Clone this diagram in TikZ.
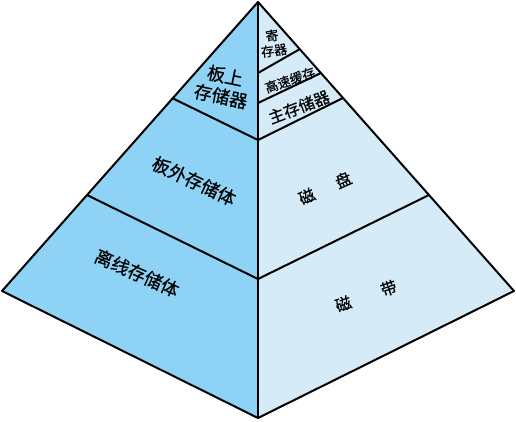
\documentclass[tikz,border=0pt]{standalone}
\usepackage{fontspec}
\newfontfamily\cjk[FakeBold=0.5]{Noto Sans CJK SC}
\definecolor{leftface}{HTML}{8ED3F5}
\definecolor{rightface}{HTML}{D5ECF8}
\tikzset{
    x=1pt, y=-1pt, % one unit per pixel, y grows downward
    rim/.style={line width=2pt, line join=round}, % outline and level lines
    biglabel/.style={font=\cjk\fontsize{18}{21}\selectfont, align=center, inner sep=0pt}, % labels of the left face
    midlabel/.style={font=\cjk\fontsize{16}{18}\selectfont, align=center, inner sep=0pt}, % labels of the right face
    smalllabel/.style={font=\cjk\fontsize{13}{15}\selectfont, align=center, inner sep=0pt}, % small labels near the apex
}

\begin{document}
\begin{tikzpicture}
\useasboundingbox (0,0) rectangle (516,422);
% corners of the pyramid
\coordinate (apex)   at (258,2);
\coordinate (left)   at (2,291);
\coordinate (right)  at (514,291);
\coordinate (bottom) at (258,418);
% points of the level lines
\coordinate (l1) at (172,98);
\coordinate (l2) at (87,195);
\coordinate (r1) at (343,98);
\coordinate (r2) at (429,195);
\coordinate (c1) at (258,140);
\coordinate (c2) at (258,279);
\coordinate (ra) at (300,49);
\coordinate (ca) at (258,73);
\coordinate (rb) at (321,73);
\coordinate (cb) at (258,103);

\fill[leftface]  (apex) -- (left) -- (bottom) -- cycle;
\fill[rightface] (apex) -- (right) -- (bottom) -- cycle;
\draw[rim] (apex) -- (left) -- (bottom) -- (right) -- cycle;
\draw[rim] (apex) -- (bottom);
\draw[rim]
(l1) -- (c1) -- (r1)
(l2) -- (c2) -- (r2)
(ra) -- (ca)
(rb) -- (cb);

\node[biglabel, rotate=-12] (board)   at (223,86)  {板上\\存储器};
\node[biglabel, rotate=-25] (offcard) at (194,181) {板外存储体};
\node[biglabel, rotate=-24] (offline) at (137,273) {离线存储体};
\node[smalllabel, rotate=8] (reg)     at (273,43)  {寄\\存器};
\node[smalllabel, rotate=19] (cache)  at (290,80)  {高速缓存};
\node[midlabel, rotate=21] (mainmem)  at (299,107) {主存储器};
\node[midlabel, rotate=24] (disk)     at (325,188) {磁\hspace{1.5em}盘};
\node[midlabel, rotate=19] (tape)     at (366,296) {磁\hspace{2em}带};
\end{tikzpicture}
\end{document}
